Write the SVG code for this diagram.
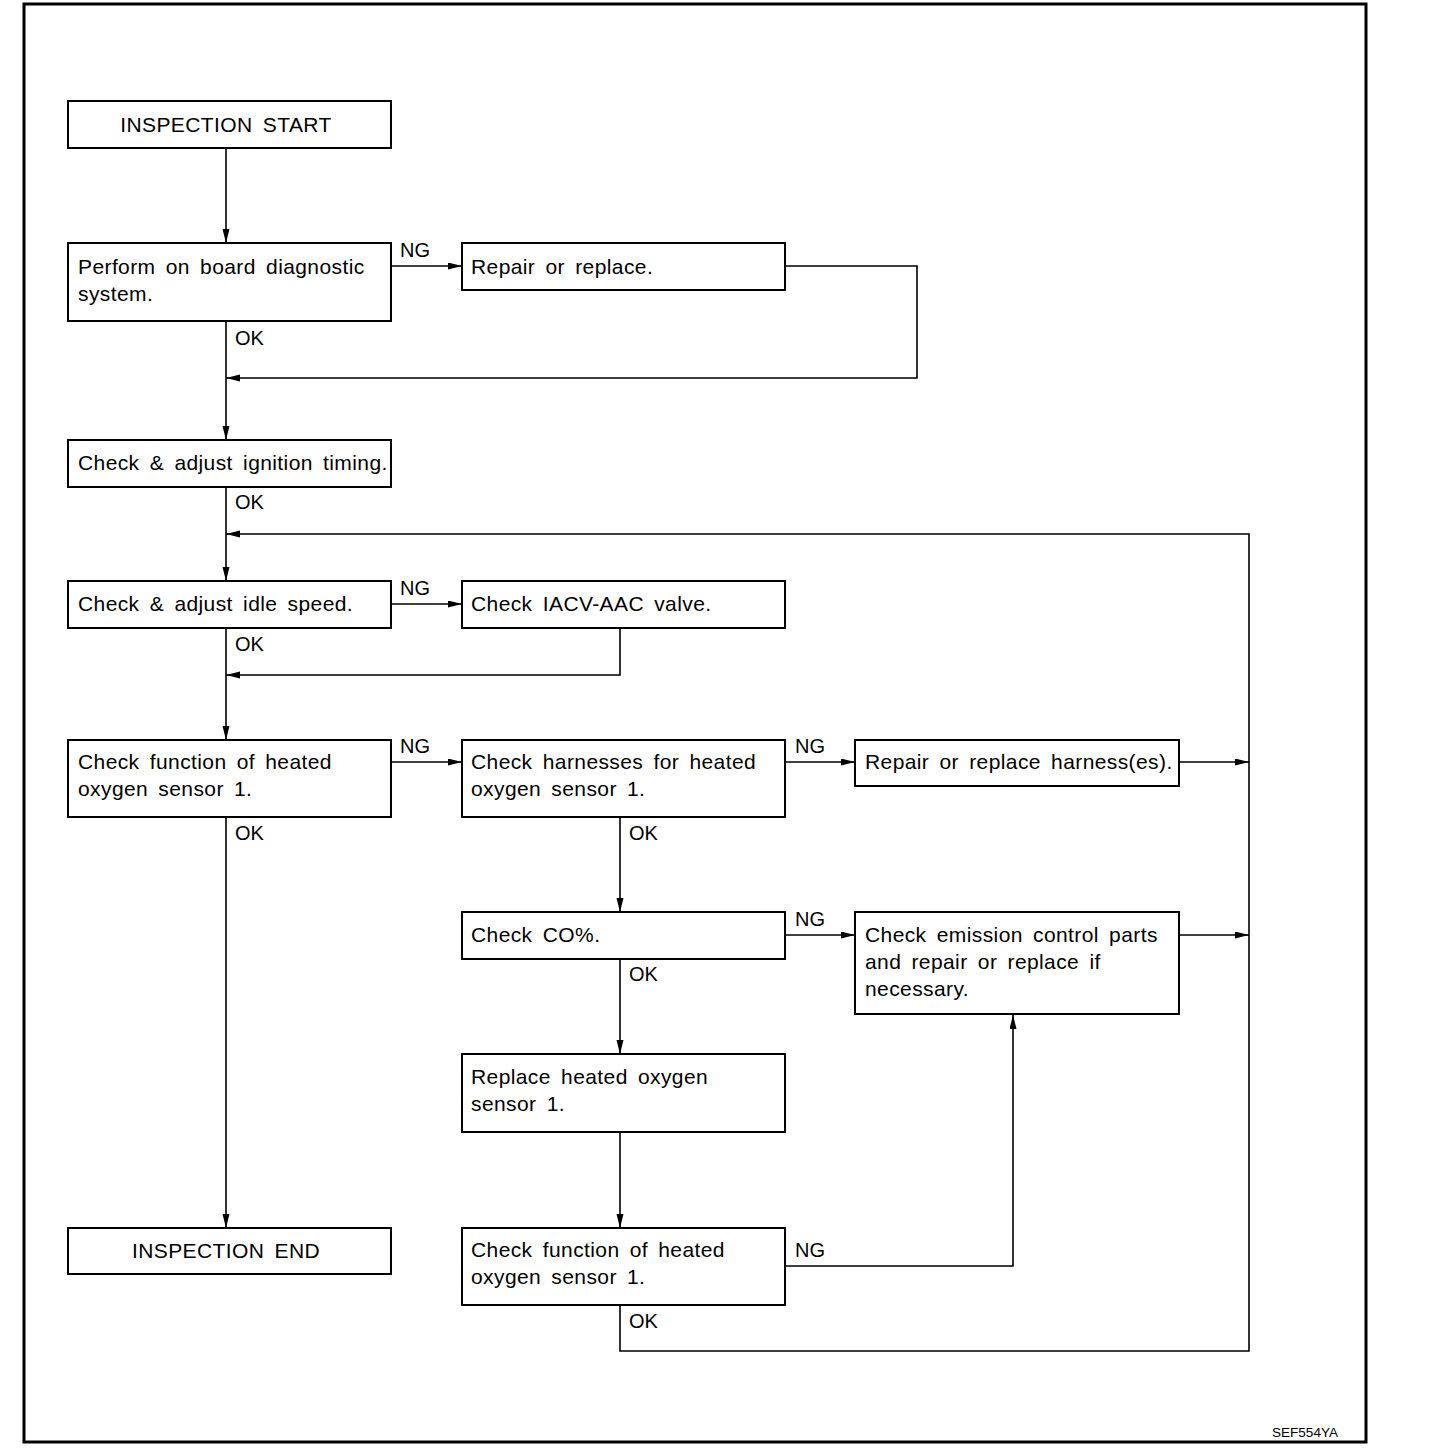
<svg xmlns="http://www.w3.org/2000/svg" width="1440" height="1450" viewBox="0 0 1440 1450">
<style>
.box{fill:#fff;stroke:#000;stroke-width:2}
.t{font-family:"Liberation Sans",Arial,sans-serif;font-size:21px;letter-spacing:0.4px;word-spacing:4px;fill:#000}
.lb{font-family:"Liberation Sans",Arial,sans-serif;font-size:20px;fill:#000}
.c{fill:none;stroke:#000;stroke-width:1.6}
</style>
<defs>
<marker id="ah" markerUnits="userSpaceOnUse" markerWidth="15" markerHeight="8" refX="14" refY="3.5" orient="auto">
<path d="M0,0 L14,3.5 L0,7 z" fill="#000"/>
</marker>
</defs>
<rect x="0" y="0" width="1440" height="1450" fill="#fff"/>
<rect x="24" y="4" width="1342" height="1438" fill="none" stroke="#000" stroke-width="3"/>
<g id="connectors">
<path class="c" d="M226,148 V243" marker-end="url(#ah)"/>
<path class="c" d="M391,266 H462" marker-end="url(#ah)"/>
<path class="c" d="M785,266 H917 V378 H226" marker-end="url(#ah)"/>
<path class="c" d="M226,321 V440" marker-end="url(#ah)"/>
<path class="c" d="M226,487 V581" marker-end="url(#ah)"/>
<path class="c" d="M620,1305 V1351 H1249 V534 H226" marker-end="url(#ah)"/>
<path class="c" d="M391,604 H462" marker-end="url(#ah)"/>
<path class="c" d="M620,628 V675 H226" marker-end="url(#ah)"/>
<path class="c" d="M226,628 V740" marker-end="url(#ah)"/>
<path class="c" d="M391,762 H462" marker-end="url(#ah)"/>
<path class="c" d="M785,762 H855" marker-end="url(#ah)"/>
<path class="c" d="M1179,762 H1249" marker-end="url(#ah)"/>
<path class="c" d="M226,817 V1228" marker-end="url(#ah)"/>
<path class="c" d="M620,817 V912" marker-end="url(#ah)"/>
<path class="c" d="M785,935 H855" marker-end="url(#ah)"/>
<path class="c" d="M1179,935 H1249" marker-end="url(#ah)"/>
<path class="c" d="M620,959 V1054" marker-end="url(#ah)"/>
<path class="c" d="M620,1132 V1228" marker-end="url(#ah)"/>
<path class="c" d="M785,1266 H1013 V1015" stroke-width="2.2" marker-end="url(#ah)"/>
<text class="lb" x="400" y="257">NG</text>
<text class="lb" x="235" y="345">OK</text>
<text class="lb" x="235" y="509">OK</text>
<text class="lb" x="400" y="595">NG</text>
<text class="lb" x="235" y="651">OK</text>
<text class="lb" x="400" y="753">NG</text>
<text class="lb" x="795" y="753">NG</text>
<text class="lb" x="235" y="840">OK</text>
<text class="lb" x="629" y="840">OK</text>
<text class="lb" x="795" y="926">NG</text>
<text class="lb" x="629" y="981">OK</text>
<text class="lb" x="795" y="1257">NG</text>
<text class="lb" x="629" y="1328">OK</text>
</g>
<g id="n-start"><rect class="box" x="68" y="101" width="323" height="47"/><text class="t" x="226" y="132" text-anchor="middle">INSPECTION START</text></g>
<g id="n-obd"><rect class="box" x="68" y="243" width="323" height="78"/><text class="t" x="78" y="274">Perform on board diagnostic</text><text class="t" x="78" y="301">system.</text></g>
<g id="n-repair"><rect class="box" x="462" y="243" width="323" height="47"/><text class="t" x="471" y="274">Repair or replace.</text></g>
<g id="n-ign"><rect class="box" x="68" y="440" width="323" height="47"/><text class="t" x="78" y="470">Check &amp; adjust ignition timing.</text></g>
<g id="n-idle"><rect class="box" x="68" y="581" width="323" height="47"/><text class="t" x="78" y="611">Check &amp; adjust idle speed.</text></g>
<g id="n-iacv"><rect class="box" x="462" y="581" width="323" height="47"/><text class="t" x="471" y="611">Check IACV-AAC valve.</text></g>
<g id="n-func1"><rect class="box" x="68" y="740" width="323" height="77"/><text class="t" x="78" y="769">Check function of heated</text><text class="t" x="78" y="796">oxygen sensor 1.</text></g>
<g id="n-harn"><rect class="box" x="462" y="740" width="323" height="77"/><text class="t" x="471" y="769">Check harnesses for heated</text><text class="t" x="471" y="796">oxygen sensor 1.</text></g>
<g id="n-rharn"><rect class="box" x="855" y="740" width="324" height="46"/><text class="t" x="865" y="769">Repair or replace harness(es).</text></g>
<g id="n-co"><rect class="box" x="462" y="912" width="323" height="47"/><text class="t" x="471" y="942">Check CO%.</text></g>
<g id="n-emis"><rect class="box" x="855" y="912" width="324" height="102"/><text class="t" x="865" y="942">Check emission control parts</text><text class="t" x="865" y="969">and repair or replace if</text><text class="t" x="865" y="996">necessary.</text></g>
<g id="n-replace"><rect class="box" x="462" y="1054" width="323" height="78"/><text class="t" x="471" y="1084">Replace heated oxygen</text><text class="t" x="471" y="1111">sensor 1.</text></g>
<g id="n-end"><rect class="box" x="68" y="1228" width="323" height="46"/><text class="t" x="226" y="1258" text-anchor="middle">INSPECTION END</text></g>
<g id="n-func2"><rect class="box" x="462" y="1228" width="323" height="77"/><text class="t" x="471" y="1257">Check function of heated</text><text class="t" x="471" y="1284">oxygen sensor 1.</text></g>
<text x="1272" y="1437" font-family="Liberation Sans,Arial,sans-serif" font-size="13" textLength="66" lengthAdjust="spacingAndGlyphs">SEF554YA</text>
</svg>
